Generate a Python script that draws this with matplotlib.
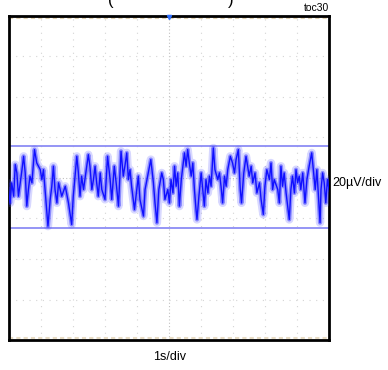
import matplotlib
matplotlib.use("Agg")
import matplotlib.pyplot as plt

plt.rcParams['font.family'] = ['Liberation Sans', 'DejaVu Sans']

# trace: time (s) and noise (uV)
temps = [0.00, 0.05, 0.10, 0.16, 0.21, 0.26, 0.31, 0.42, 0.47, 0.52, 0.57, 0.62,
         0.67, 0.73, 0.81, 0.88, 0.99, 1.04, 1.09, 1.14, 1.23, 1.30, 1.35, 1.40,
         1.45, 1.51, 1.56, 1.66, 1.77, 1.87, 1.97, 2.02, 2.13, 2.18, 2.23, 2.28,
         2.34, 2.44, 2.49, 2.54, 2.60, 2.65, 2.70, 2.75, 2.80, 2.86, 2.91, 3.01,
         3.09, 3.17, 3.22, 3.30, 3.37, 3.43, 3.51, 3.58, 3.63, 3.69, 3.74, 3.79,
         3.84, 3.93, 4.00, 4.05, 4.10, 4.21, 4.26, 4.36, 4.44, 4.52, 4.57, 4.63,
         4.69, 4.78, 4.83, 4.88,
         4.97, 5.02, 5.07, 5.13, 5.18, 5.23, 5.28, 5.33, 5.39, 5.49, 5.54, 5.59,
         5.64, 5.70, 5.75, 5.80, 5.85, 5.88, 5.94, 6.01, 6.06, 6.11, 6.16, 6.22,
         6.27, 6.32, 6.39, 6.44, 6.53, 6.58, 6.63, 6.68, 6.74, 6.79, 6.84, 6.92,
         6.99, 7.05, 7.10, 7.17, 7.23, 7.27, 7.34, 7.41, 7.46, 7.51, 7.57, 7.62,
         7.69, 7.75, 7.83, 7.88, 7.95, 8.00, 8.06, 8.14, 8.19, 8.24, 8.29, 8.40,
         8.45, 8.50, 8.55, 8.60, 8.66, 8.71, 8.76, 8.81, 8.86, 8.92, 8.97, 9.02,
         9.07, 9.12, 9.18, 9.25, 9.31, 9.38, 9.46, 9.52, 9.57, 9.62, 9.72, 9.75,
         9.80, 9.85, 9.90, 9.95, 10.0]
bruit = [-5.7, -12.3, -2.4, -9.0, 6.6, 2.5, -9.0, 4.1, 10.7, 2.5, -13.9, -5.7,
         0.9, -2.4, 14.0, 7.4, 4.1, -0.8, 4.1, -5.7, -23.8, -10.6, -4.1, 5.8,
         -5.7, -12.3, -2.4, -9.0, -4.1, -12.3, -23.0, -9.0, 10.7, 2.5, -9.0, 0.9,
         -5.7, 5.8, 11.5, 5.8, -5.7, -0.8, 5.8, -2.4, -9.0, 2.5, -5.7, -10.6,
         10.7, -0.8, -10.6, 5.8, -4.1, -13.9, 13.2, 0.9, 5.8, 12.4, -0.8, 4.1,
         -4.1, -15.6, -5.7, 0.9, -10.6, -18.8, -5.7, 2.5, 9.1, -2.4, -12.3, -22.1,
         -5.7, 2.5, -0.8, -10.6,
         -5.7, -12.3, -0.8, -7.4, 5.8, -4.1, 2.5, -13.9, -0.8, 12.4, 5.8, 14.0,
         7.4, 0.9, 7.4, -5.7, -15.6, -20.5, -9.0, 2.5, -5.7, -13.9, -0.8, -7.4,
         0.9, -4.1, 14.8, 4.1, -0.8, 2.5, -4.1, -12.3, 0.9, -4.1, 4.1, 10.7,
         7.4, 2.5, 9.1, 14.0, -5.7, -12.3, 2.5, 10.7, 5.8, 0.9, 5.8, -2.4,
         2.5, -7.4, -2.4, -10.6, -18.0, -4.1, 4.1, -0.8, 7.4, -5.7, -0.8, -5.7,
         -12.3, 5.8, -4.1, 2.5, -7.4, -13.9, -20.5, -5.7, 0.9, -7.4, 4.1, -2.4,
         0.9, -5.7, 2.5, -12.3, -0.8, 5.8, 12.4, 2.5, -5.7, 4.1, -22.1, -5.7,
         2.5, -2.4, -12.3, -0.8, -5.7]

# curseurs (uV)
curseurs = [15.6, -24.6]

fig = plt.figure(figsize=(3.88, 3.70), dpi=100)
ax = fig.add_axes([0.022, 0.081, 0.826, 0.876])
ax.set_xlim(0, 10)
ax.set_ylim(-80, 80)

# grille de l'oscilloscope
for x in range(1, 10):
    if x == 5:
        ax.axvline(x, color='#c0c0c0', lw=0.8, ls=(0, (1, 2)), zorder=1)
    else:
        ax.axvline(x, color='#d4d4d4', lw=0.8, ls=(0, (1, 5)), zorder=1)
for y in range(-60, 80, 20):
    if y == 0:
        ax.axhline(y, color='#c0c0c0', lw=0.8, ls=(0, (1, 2)), zorder=1)
    else:
        ax.axhline(y, color='#d4d4d4', lw=0.8, ls=(0, (1, 5)), zorder=1)
ax.axhline(78.8, color='#e2d3b4', lw=1.5, ls=(0, (2, 1.5)), zorder=1)
ax.axhline(-78.8, color='#e8dcc4', lw=1.5, ls=(0, (2, 1.5)), zorder=1)

for c in curseurs:
    ax.axhline(c, color='#8c8cf5', lw=1.3, zorder=2)

# trace floue : bande claire + ligne
ax.plot(temps, bruit, color='#5050ff', lw=6, alpha=0.22, zorder=3)
ax.plot(temps, bruit, color='#2a2aff', lw=3, alpha=0.45, zorder=3)
ax.plot(temps, bruit, color='#1010ff', lw=1.0, zorder=4)
ax.plot([5], [79.5], marker='v', color='#3070ff', ms=3, clip_on=False, zorder=5)

ax.set_xticks([])
ax.set_yticks([])
for s in ax.spines.values():
    s.set_linewidth(2)
    s.set_color('black')

fig.text(0.848, 0.978, "toc30", ha='right', va='center', fontsize=7.5)
fig.text(0.857, 0.505, "20\u00b5V/div", ha='left', va='center', fontsize=9)
fig.text(0.438, 0.035, "1s/div", ha='center', va='center', fontsize=9)
fig.text(0.285, 1.0, "(", ha='center', va='center', fontsize=12)
fig.text(0.595, 1.0, ")", ha='center', va='center', fontsize=12)

fig.savefig("out.png", dpi=100)
